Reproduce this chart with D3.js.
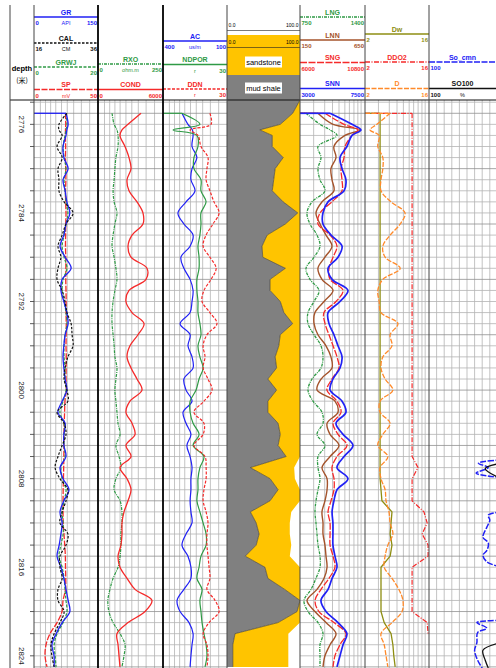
<!DOCTYPE html>
<html>
<head>
<meta charset="utf-8">
<script src="https://cdn.jsdelivr.net/npm/d3@7"></script>
<style>
  body { margin: 0; background: #fff; }
  svg { display: block; font-family: "Liberation Sans", Arial, sans-serif; }
</style>
</head>
<body>
<div id="chart"></div>
<script>
// ---- data ----
const depth = [2775, 2776, 2776.5, 2777, 2778, 2779, 2780, 2781, 2782, 2783, 2784, 2785, 2786, 2787, 2788, 2789, 2790,
  2791, 2792, 2793, 2794, 2795, 2796, 2797, 2798, 2799, 2800, 2801, 2802, 2803, 2804, 2805, 2806, 2807, 2808,
  2809, 2810, 2811, 2812, 2813, 2814, 2815, 2816, 2817, 2818, 2819, 2820, 2821, 2822, 2823, 2824, 2825];
const depthLabels = [2776, 2784, 2792, 2800, 2808, 2816, 2824];

const GR = [75, 80, 77, 75, 68, 70, 80, 68, 73, 77, 84, 75, 70, 61, 73, 87, 66, 63, 70, 77, 80, 73, 70, 68, 70, 73,
  77, 66, 56, 73, 70, 70, 75, 61, 68, 82, 70, 61, 66, 63, 59, 54, 63, 70, 75, 80, 84, 66, 52, 42, 47, 47];
const CAL = [26.3, 23.8, 23.8, 24.8, 23.2, 24.8, 23.5, 23.8, 23.8, 25.4, 28.2, 26, 24.8, 23.5, 24.4, 23.5, 23.2,
  24.8, 25.7, 26.3, 27.6, 27.9, 28.2, 26.6, 25.7, 25.4, 26.3, 26.6, 23.2, 25.4, 26, 24.8, 23.5, 22.6, 24.1, 26.6,
  26, 24.8, 24.1, 26.6, 26, 24.1, 24.1, 24.8, 23.5, 23.5, 25.4, 24.1, 22.3, 21.3, 21.6, 22.3];
const GRWJ = [10, 10.3, 10, 9.7, 9.1, 9.4, 10, 9.4, 9.7, 10, 10.6, 10, 9.4, 8.8, 9.4, 10.3, 9.1, 8.8, 9.4, 10, 10.3,
  9.7, 9.4, 9.4, 9.7, 9.7, 10, 9.1, 8.1, 9.4, 9.4, 9.4, 9.7, 8.4, 8.8, 10, 9.4, 8.8, 9.1, 9.1, 8.4, 7.8, 8.8, 9.4,
  9.7, 10, 10.3, 9.1, 7.2, 6.3, 6.6, 6.9];
const SP = [24.6, 24.8, 24.6, 24.5, 24.7, 24.6, 24.8, 24.9, 24.6, 24.7, 25, 24.8, 24.7, 24.6, 24.8, 24.9, 24.8, 25,
  25.1, 25, 25.2, 25.1, 25, 25.2, 25.1, 25, 25.2, 24.2, 23.9, 23.6, 23.4, 23.4, 23.3, 23.2, 23, 22.8, 22.7, 22.7,
  22.8, 23.4, 24, 24.5, 24.6, 24.8, 24.6, 22.7, 21.9, 18, 12.5, 9.4, 8.6, 10.2];

const RXO = [54, 62, 73, 77, 77, 69, 65, 62, 58, 62, 73, 65, 58, 54, 62, 69, 73, 65, 58, 54, 54, 58, 62, 65, 73, 69,
  65, 69, 73, 77, 85, 69, 81, 88, 69, 62, 85, 92, 92, 88, 88, 85, 77, 58, 46, 38, 42, 58, 85, 104, 100, 92];
const COND = [3970, 2770, 2215, 2030, 2490, 2860, 3050, 2680, 2860, 3600, 4150, 4150, 3140, 2770, 3050, 4520, 4430,
  2860, 2580, 3140, 4250, 3690, 2950, 2680, 3050, 3600, 4060, 2950, 2580, 3140, 3420, 2580, 3050, 2030, 2680, 3050,
  2770, 2400, 2215, 2215, 2120, 1850, 2030, 2680, 3420, 4980, 4340, 2770, 1750, 1850, 1940, 2030];

const AC = [311, 283, 262, 259, 264, 241, 264, 269, 250, 292, 330, 302, 259, 273, 316, 302, 273, 259, 264, 273, 320,
  273, 283, 264, 259, 302, 292, 264, 306, 292, 269, 288, 273, 264, 269, 269, 273, 269, 264, 292, 311, 283, 269, 269,
  302, 334, 320, 278, 259, 264, 269, 273];
const NDPOR = [8.9, 17.3, 4.7, 15.9, 16.4, 14.5, 14.5, 17.8, 17.8, 20.2, 17.8, 17.8, 17.3, 16.4, 16.9, 16.9, 15.9,
  15.9, 16.4, 16.4, 17.3, 17.8, 16.4, 17.3, 18.8, 16.9, 15.5, 12.7, 12.7, 14.1, 16.9, 14.1, 19.2, 17.3, 16.4, 16.4,
  15.9, 17.3, 18.8, 20.2, 20.2, 17.8, 16.9, 15.9, 18.3, 17.3, 17.8, 18.3, 19.2, 20.2, 20.6, 19.7];
const DDN = [22, 22.5, 12.7, 16.4, 17.8, 21.1, 20.6, 20.2, 22, 23.9, 26.3, 23.4, 20.2, 18.8, 22, 24.9, 22.5, 19.2,
  18.3, 22, 25.3, 20.6, 18.8, 19.7, 18.8, 21.1, 23, 19.2, 14.5, 19.2, 18.8, 14.5, 19.7, 20.2, 20.2, 19.2, 18.8, 20.2,
  21.1, 20.6, 20.6, 21.1, 21.6, 22, 20.6, 24.4, 26.3, 21.6, 18.8, 20.6, 21.1, 20.6];

// lithology: shale line and sand limit, 0-100
const lithDepth = [2773.8, 2775, 2776, 2776.5, 2777, 2778, 2779, 2780, 2781, 2782, 2783, 2784, 2785, 2786, 2787, 2788,
  2789, 2790, 2791, 2792, 2793, 2794, 2795, 2796, 2797, 2798, 2799, 2800, 2801, 2802, 2803, 2804, 2805, 2806, 2807,
  2808, 2809, 2810, 2811, 2812, 2813, 2814, 2815, 2816, 2817, 2818, 2819, 2820, 2821, 2822, 2823, 2824, 2825];
const SH = [100, 90, 73, 45, 62, 62, 77, 66, 64, 62, 77, 97, 80, 55, 48, 49, 80, 59, 59, 73, 78, 90, 73, 71, 66, 68,
  56, 68, 56, 56, 70, 73, 70, 81, 32, 59, 70, 59, 32, 40, 44, 40, 25, 52, 56, 79, 100, 96, 70, 11, 8, 8, 8];
const SD = [100, 100, 100, 100, 100, 100, 100, 100, 100, 100, 100, 100, 100, 100, 100, 100, 100, 100, 100, 100, 100,
  100, 100, 100, 100, 100, 100, 100, 100, 100, 100, 100, 100, 100, 92, 93, 100, 100, 88, 86, 86, 88, 86, 100, 100,
  100, 100, 100, 100, 84, 84, 84, 84];

const LNG = [810, 950, 1050, 1120, 930, 960, 930, 950, 1000, 870, 820, 850, 920, 950, 890, 810, 850, 940, 890, 830,
  830, 890, 960, 980, 960, 870, 830, 880, 970, 980, 920, 1000, 930, 930, 950, 930, 910, 900, 910, 920, 930, 950, 950,
  910, 860, 790, 830, 930, 980, 950, 950, 950];
const LNN = [288, 404, 611, 496, 411, 427, 388, 396, 411, 319, 273, 304, 350, 396, 342, 288, 319, 404, 335, 265, 258,
  288, 350, 388, 396, 312, 281, 419, 442, 358, 381, 450, 381, 319, 358, 358, 342, 319, 327, 327, 342, 350, 358, 335,
  281, 204, 265, 350, 427, 381, 342, 327];
const SNG = [7850, 9250, 10280, 9840, 9320, 9250, 9030, 9100, 9100, 8360, 7480, 7330, 8220, 8730, 8440, 8140, 8220,
  9180, 8660, 7770, 7850, 8140, 8440, 8730, 8880, 8360, 7990, 8730, 9030, 8440, 8810, 9470, 8730, 8360, 8510, 8510,
  8290, 8070, 8220, 8220, 8220, 8440, 8580, 8140, 7550, 7110, 7400, 8510, 9400, 8950, 8580, 8440];
const SNN = [5080, 6600, 7220, 6600, 6250, 5770, 5910, 6180, 6050, 4940, 4590, 4590, 5150, 5910, 5630, 4940, 5220,
  6320, 5770, 4940, 5010, 5350, 5630, 5910, 5770, 5280, 5080, 5910, 6180, 5490, 5980, 6670, 6050, 5560, 6320, 5560,
  5350, 5220, 5280, 5280, 5280, 5420, 5560, 5220, 4940, 4450, 4800, 5630, 6250, 5980, 5770, 5560];

const Dw = [5.3, 5.3, 5.3, 5.3, 5.3, 5.3, 5.3, 5.3, 5.3, 5.3, 5.3, 5.3, 5.3, 5.3, 5.3, 5.3, 5.3, 5.3, 5.3, 5.3, 5.3,
  5.3, 5.3, 5.3, 5.3, 5.3, 5.3, 5.3, 5.3, 5.3, 5.3, 5.3, 5.3, 5.3, 5.3, 5.5, 5.7, 7.9, 7.7, 7.5, 7.9, 7.5, 5.5, 5.5,
  5.5, 5.5, 5.5, 6.2, 7.7, 8.1, 8.3, 8.6];
const DDO2 = [12.3, 12.3, 12.3, 12.3, 12.3, 12.3, 12.3, 12.3, 12.3, 12.3, 12.3, 12.3, 12.3, 12.3, 12.3, 12.3, 12.3,
  12.3, 12.3, 12.3, 12.3, 12.3, 12.3, 12.3, 12.3, 12.3, 12.3, 12.3, 12.3, 12.3, 12.3, 12.3, 12.3, 13.6, 12.3, 12.3,
  12.3, 14.9, 15.6, 14.5, 15.8, 15.8, 12.3, 12.3, 12.3, 12.3, 12.3, 15.6, 15.8, null, null, null];
const D = [7.5, 4.6, 3.1, 5.1, 4.8, 5.9, 5.9, 5.5, 5.5, 7.7, 10.75, 9.7, 7.5, 5.9, 6.4, 9.7, 5.9, 4.8, 5.1, 5.5, 9.2,
  7.5, 7.9, 5.9, 5.5, 6.4, 8.1, 5.3, 5.3, 7.5, 5.9, 4.8, 7.0, 5.3, 5.5, 6.4, 6.6, 7.25, 7.5, 8.1, 7.0, 6.4, 6.2, 7.9,
  9.4, 10.3, 10.1, 7.9, 5.5, 6.2, 6.6, 7.0];

const soCmnDepth = [2806.3, 2806.6, 2807.0, 2807.5, 2807.9, 2809, 2811.0, 2811.3, 2811.75, 2812.4, 2813.3, 2813.8,
  2814.5, 2814.9, 2815.5, 2816.0, 2818, 2820.8, 2821.0, 2821.5, 2821.9, 2822.8, 2823.5, 2824.4, 2825.1];
const soCmn = [5, 35, 22, 38, 5, null, 5, 22, 20, 24, 29, 22, 24, 29, 24, 5, null, 5, 37, 24, 36, 37, 40, 36, 30];
const so100Depth = [2806.6, 2807.1, 2808.0, 2815, 2822.8, 2823.5, 2824.4, 2825.1];
const so100 = [5, 26, 5, null, 5, 29, 26, 22];

// ---- layout ----
const W = 496, H = 668, plotTop = 100;
const blue = "#2121f5", green = "#2f9a45", red = "#f52a2a", brown = "#a4532b",
  orange = "#ff8a2a", olive = "#8e8e12", gold = "#ffc400", shale = "#808080";
const gridA = [0.1, 0.18, 0.26, 0.34, 0.43, 0.52, 0.62, 0.74, 0.87];
const gridB = [0.21, 0.38, 0.5, 0.6, 0.69, 0.76, 0.83, 0.89, 0.94];
const gridC = [0.1, 0.2, 0.3, 0.4, 0.5, 0.6, 0.7, 0.8, 0.9];
const tracks = [
  { x0: 34, x1: 98, grid: gridA },
  { x0: 98, x1: 163, grid: gridA },
  { x0: 163, x1: 227, grid: gridA },
  { x0: 227, x1: 300, grid: null },
  { x0: 300, x1: 365, grid: gridB },
  { x0: 365, x1: 429, grid: gridB },
  { x0: 429, x1: 505, grid: gridC }
];

const curves = [
  { name: "SP", track: 0, d: depth, v: SP, dom: [0, 50], color: red, w: 1.3, dash: "6,1.5", hy: 89.5, l: "0", u: "mV", r: "50" },
  { name: "GRWJ", track: 0, d: depth, v: GRWJ, dom: [0, 20], color: green, w: 1.2, dash: "3,1.5", hy: 67, l: "0", u: "", r: "20" },
  { name: "GR", track: 0, d: depth, v: GR, dom: [0, 150], color: blue, w: 1.3, hy: 17, l: "0", u: "API", r: "150", lead: true },
  { name: "CAL", track: 0, d: depth, v: CAL, dom: [16, 36], color: "#111", w: 1.2, dash: "2.5,1.5", hy: 43, l: "16", u: "CM", r: "36" },
  { name: "RXO", track: 1, d: depth, v: RXO, dom: [0, 250], color: green, w: 1.2, dash: "3,1,1,1", hy: 64, l: "0", u: "ohm.m", r: "250" },
  { name: "COND", track: 1, d: depth, v: COND, dom: [0, 6000], color: red, w: 1.3, hy: 89.5, l: "0", u: "", r: "6000" },
  { name: "AC", track: 2, d: depth, v: AC, dom: [400, 100], color: blue, w: 1.2, hy: 41, l: "400", u: "us/m", r: "100" },
  { name: "NDPOR", track: 2, d: depth, v: NDPOR, dom: [0, 30], color: green, w: 1.2, hy: 64.5, l: "", u: "r", r: "30", lead: true },
  { name: "DDN", track: 2, d: depth, v: DDN, dom: [0, 30], color: red, w: 1.2, dash: "3,1.5", hy: 89, l: "", u: "r", r: "30" },
  { name: "LNG", track: 4, d: depth, v: LNG, dom: [750, 1400], color: green, w: 1.3, dash: "3,1,1,1", hy: 17, l: "750", u: "", r: "1400", lead: true },
  { name: "LNN", track: 4, d: depth, v: LNN, dom: [150, 650], color: brown, w: 1.4, hy: 40, l: "150", u: "", r: "650", lead: true },
  { name: "SNG", track: 4, d: depth, v: SNG, dom: [6000, 10800], color: red, w: 1.3, dash: "7,1.5", hy: 62.5, l: "6000", u: "", r: "10800", lead: true },
  { name: "SNN", track: 4, d: depth, v: SNN, dom: [3000, 7500], color: blue, w: 1.7, hy: 88.5, l: "3000", u: "", r: "7500", lead: true },
  { name: "Dw", track: 5, d: depth, v: Dw, dom: [2, 16], color: olive, w: 1.3, hy: 34, l: "2", u: "", r: "16", lead: true, flat: true },
  { name: "DDO2", track: 5, d: depth, v: DDO2, dom: [2, 16], color: red, w: 1.2, dash: "5,1.5,1,1.5", hy: 62, l: "2", u: "", r: "16", lead: true, flat: true },
  { name: "D", track: 5, d: depth, v: D, dom: [2, 16], color: orange, w: 1.3, dash: "5,1.5", hy: 88.5, l: "2", u: "", r: "16", lead: true },
  { name: "So_cmn", track: 6, d: soCmnDepth, v: soCmn, dom: [100, 0], color: blue, w: 1.5, dash: "6,1.5", hy: 62, l: "100", u: "", r: "" },
  { name: "SO100", track: 6, d: so100Depth, v: so100, dom: [100, 0], color: "#111", w: 1.3, hy: 88.5, l: "100", u: "%", r: "" }
];

const svg = d3.select("#chart").append("svg").attr("width", W).attr("height", H);
const y = d3.scaleLinear().domain([2773.8, 2825.1]).range([plotTop, H]);

const defs = svg.append("defs");
tracks.forEach((t, i) => {
  defs.append("clipPath").attr("id", "clip" + i)
    .append("rect").attr("x", t.x0).attr("y", plotTop).attr("width", t.x1 - t.x0).attr("height", H - plotTop);
});

// grid
const gridG = svg.append("g");
const meters = d3.range(2774, 2826);
tracks.forEach(t => {
  if (!t.grid) return;
  gridG.selectAll(null).data(t.grid).enter().append("line")
    .attr("x1", f => t.x0 + f * (t.x1 - t.x0)).attr("x2", f => t.x0 + f * (t.x1 - t.x0))
    .attr("y1", plotTop).attr("y2", H)
    .attr("stroke", "#b4b4b4").attr("stroke-width", 0.8);
  gridG.selectAll(null).data(meters).enter().append("line")
    .attr("x1", t.x0).attr("x2", t.x1)
    .attr("y1", m => y(m)).attr("y2", m => y(m))
    .attr("stroke", m => m % 5 === 0 ? "#909090" : "#b4b4b4").attr("stroke-width", 0.8);
});

// lithology track
const lt = tracks[3];
const lx = d3.scaleLinear().domain([0, 100]).range([lt.x0, lt.x1]);
const lith = lithDepth.map((d, i) => ({ d, sh: SH[i], sd: SD[i] }));
const lithG = svg.append("g").attr("clip-path", "url(#clip3)");
lithG.append("path").datum(lith)
  .attr("fill", shale)
  .attr("d", d3.area().y(p => y(p.d)).x0(lx(0)).x1(p => lx(p.sh)));
lithG.append("path").datum(lith)
  .attr("fill", gold)
  .attr("d", d3.area().y(p => y(p.d)).x0(p => lx(p.sh)).x1(p => lx(p.sd)));
lithG.append("path").datum(lith)
  .attr("fill", "none").attr("stroke", "#333").attr("stroke-width", 0.6)
  .attr("d", d3.line().y(p => y(p.d)).x(p => lx(p.sh)));

// curves
curves.forEach(c => {
  const t = tracks[c.track];
  const x = d3.scaleLinear().domain(c.dom).range([t.x0, t.x1]);
  const pts = c.d.map((d, i) => ({ d, v: c.v[i] }));
  const g = svg.append("g").attr("clip-path", `url(#clip${c.track})`);
  const line = d3.line()
    .defined(p => p.v !== null)
    .x(p => x(p.v)).y(p => y(p.d))
    .curve(c.flat ? d3.curveLinear : d3.curveCatmullRom.alpha(0.5));
  if (c.lead) {
    g.append("line")
      .attr("x1", x(c.dom[0])).attr("x2", x(c.v[0]))
      .attr("y1", y(c.d[0])).attr("y2", y(c.d[0]))
      .attr("stroke", c.color).attr("stroke-width", c.w)
      .attr("stroke-dasharray", c.dash || null);
  }
  g.append("path").datum(pts)
    .attr("fill", "none").attr("stroke", c.color).attr("stroke-width", c.w)
    .attr("stroke-dasharray", c.dash || null)
    .attr("stroke-linejoin", "round")
    .attr("d", line);
});

// header: curve names and scales
const head = svg.append("g");
curves.forEach(c => {
  const t = tracks[c.track];
  const cx = (t.x0 + Math.min(t.x1, W)) / 2;
  head.append("line")
    .attr("x1", t.x0).attr("x2", t.x1).attr("y1", c.hy).attr("y2", c.hy)
    .attr("stroke", c.color).attr("stroke-width", 1.3)
    .attr("stroke-dasharray", c.dash || null);
  head.append("text").attr("x", cx).attr("y", c.hy - 2.5)
    .attr("text-anchor", "middle").attr("font-size", 7).attr("font-weight", "bold")
    .attr("fill", c.color).text(c.name);
  const sy = c.hy + 8;
  head.append("text").attr("x", t.x0 + 1.5).attr("y", sy).attr("font-size", 6)
    .attr("font-weight", "bold").attr("fill", c.color).text(c.l);
  head.append("text").attr("x", cx).attr("y", sy).attr("text-anchor", "middle")
    .attr("font-size", 5.5).attr("fill", c.color).text(c.u);
  head.append("text").attr("x", t.x1 - 1).attr("y", sy).attr("text-anchor", "end")
    .attr("font-size", 6).attr("font-weight", "bold").attr("fill", c.color).text(c.r);
});

// lithology header
const lh = svg.append("g");
const lcx = (lt.x0 + lt.x1) / 2;
lh.append("rect").attr("x", lt.x0).attr("y", 35).attr("width", lt.x1 - lt.x0).attr("height", 40).attr("fill", gold);
lh.append("rect").attr("x", lt.x0).attr("y", 75).attr("width", lt.x1 - lt.x0).attr("height", 25).attr("fill", shale);
[27, 44].forEach(ty => {
  lh.append("text").attr("x", lt.x0 + 1.5).attr("y", ty).attr("font-size", 5).text("0.0");
  lh.append("text").attr("x", lt.x1 - 1.5).attr("y", ty).attr("font-size", 5).attr("text-anchor", "end").text("100.0");
  lh.append("line").attr("x1", lt.x0).attr("x2", lt.x1).attr("y1", ty + 3.5).attr("y2", ty + 3.5)
    .attr("stroke", "#222").attr("stroke-width", 0.6);
});
[["sandstone", 62], ["mud shale", 88]].forEach(([s, ty]) => {
  lh.append("rect").attr("x", lcx - 18.5).attr("y", ty - 5.5).attr("width", 37).attr("height", 11).attr("fill", "#fff");
  lh.append("text").attr("x", lcx).attr("y", ty + 2.5).attr("text-anchor", "middle")
    .attr("font-size", 7.5).text(s);
});

// depth column
const dg = svg.append("g");
dg.append("text").attr("x", 22).attr("y", 71).attr("text-anchor", "middle")
  .attr("font-size", 7.5).attr("font-weight", "bold").text("depth");
dg.append("text").attr("x", 22).attr("y", 83).attr("text-anchor", "middle")
  .attr("font-size", 7).attr("font-family", "Noto Sans CJK SC").text("(米)");
dg.selectAll(null).data(d3.range(2774, 2826, 2)).enter().append("line")
  .attr("x1", 30).attr("x2", 34).attr("y1", d => y(d)).attr("y2", d => y(d))
  .attr("stroke", "#333").attr("stroke-width", 0.8);
dg.selectAll(null).data(depthLabels).enter().append("text")
  .attr("transform", d => `translate(19,${y(d)}) rotate(90)`)
  .attr("text-anchor", "middle").attr("font-size", 8).attr("fill", "#222")
  .text(d => d);

// borders
const bg = svg.append("g");
bg.append("line").attr("x1", 10).attr("x2", W).attr("y1", plotTop).attr("y2", plotTop)
  .attr("stroke", "#111").attr("stroke-width", 1);
const borders = [10, 34, 98, 163, 227, 300, 365, 429];
bg.selectAll(null).data(borders).enter().append("line")
  .attr("x1", d => d).attr("x2", d => d).attr("y1", 5).attr("y2", H)
  .attr("stroke", d => (d === 98 || d === 163) ? "#000" : "#444")
  .attr("stroke-width", d => (d === 98 || d === 163) ? 1.8 : 1);
</script>
</body>
</html>
